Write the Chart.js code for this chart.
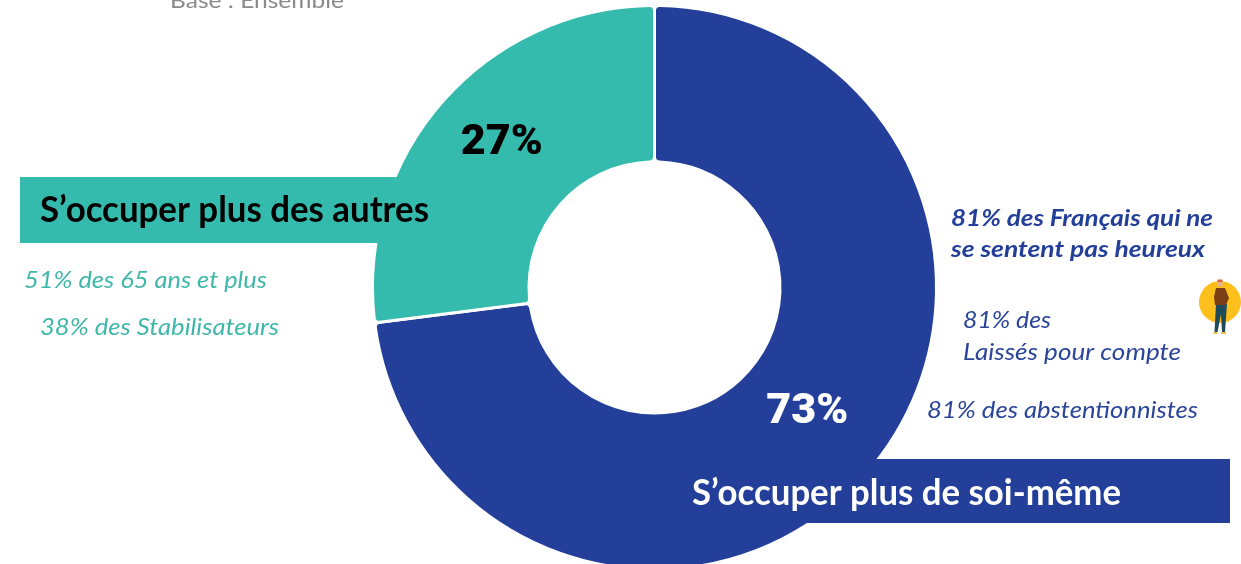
<!DOCTYPE html>
<html lang="fr">
<head>
<meta charset="utf-8">
<title>S'occuper plus des autres / de soi-même</title>
<script src="https://cdn.jsdelivr.net/npm/chart.js@4"></script>
<style>
    html, body { margin: 0; padding: 0; background: #fff; overflow: hidden; }
    #wrap { position: relative; width: 1241px; height: 564px; overflow: hidden; }
    canvas { position: absolute; left: 0; top: 0; }
</style>
</head>
<body>
<div id="wrap"><canvas id="donut" width="1241" height="575"></canvas></div>
<script>
const categories = ["S’occuper plus de soi-même", "S’occuper plus des autres"];
const values = [73, 27];
const baseNote = "Base : Ensemble";
const othersNotes = ["51% des 65 ans et plus", "38% des Stabilisateurs"];
const selfNotesStrong = ["81% des Français qui ne", "se sentent pas heureux"];
const selfNotes = ["81% des", "Laissés pour compte", "81% des abstentionnistes"];

const BLUE = "#233f99";
const TEAL = "#34bbad";

function put(ctx, text, x, y, width, font, color) {
    ctx.font = font;
    ctx.fillStyle = color;
    // stretch or squeeze the installed font to the width seen in the picture
    const natural = ctx.measureText(text).width;
    ctx.save();
    ctx.translate(x, y);
    ctx.scale(width / natural, 1);
    ctx.fillText(text, 0, 0);
    ctx.restore();
}

function drawFigure(ctx) {
    ctx.fillStyle = "#fdbf1c";
    ctx.beginPath(); ctx.arc(1220, 302, 21, 0, Math.PI * 2); ctx.fill();
    ctx.fillStyle = "#1f4a5a";
    ctx.beginPath();
    ctx.moveTo(1216, 304); ctx.lineTo(1227, 304); ctx.lineTo(1225, 332);
    ctx.lineTo(1222, 332); ctx.lineTo(1221, 314); ctx.lineTo(1217.5, 332); ctx.lineTo(1214.5, 332);
    ctx.closePath(); ctx.fill();
    ctx.fillStyle = "#7a3f14";
    ctx.beginPath();
    ctx.moveTo(1216, 288); ctx.lineTo(1225, 288); ctx.lineTo(1229, 298);
    ctx.lineTo(1226, 305); ctx.lineTo(1215, 305); ctx.lineTo(1214, 297);
    ctx.closePath(); ctx.fill();
    ctx.fillStyle = "#e9b48f";
    ctx.beginPath(); ctx.arc(1220, 284, 2.8, 0, Math.PI * 2); ctx.fill();
    ctx.fillStyle = "#d9603a";
    ctx.fillRect(1217.5, 279.5, 5, 2.5);
    ctx.fillStyle = "#f2c04a";
    ctx.fillRect(1213.5, 332, 4, 2);
    ctx.fillRect(1221, 332, 5, 2);
}

const calloutsPlugin = {
    id: "callouts",
    afterDatasetsDraw(chart) {
        const ctx = chart.ctx;
        const arcs = chart.getDatasetMeta(0).data;
        ctx.save();
        ctx.textAlign = "left";
        ctx.textBaseline = "alphabetic";

        put(ctx, baseNote, 170, 8, 174, "22px Lato", "#8a8a8a");

        ctx.fillStyle = TEAL;
        ctx.fillRect(20, 177, 420, 66);
        ctx.fillStyle = BLUE;
        ctx.fillRect(720, 459, 510, 64);

        // percent labels hang off the arcs themselves
        const percentColors = ["#ffffff", "#000000"];
        arcs.forEach((arc, i) => {
            const p = arc.tooltipPosition();
            const w = 82;
            put(ctx, values[i] + "%", p.x - w / 2, p.y + 1, w, "900 42px Roboto", percentColors[i]);
        });

        put(ctx, categories[1], 40, 222, 389, "bold 36px Lato", "#000000");
        put(ctx, categories[0], 692, 505, 429, "bold 36px Lato", "#ffffff");

        put(ctx, othersNotes[0], 24, 288, 243, "italic 24px Lato", "#3fb8a9");
        put(ctx, othersNotes[1], 40, 335, 239, "italic 24px Lato", "#3fb8a9");

        put(ctx, selfNotesStrong[0], 951, 226, 262, "italic bold 23px Lato", BLUE);
        put(ctx, selfNotesStrong[1], 951, 257, 254, "italic bold 23px Lato", BLUE);

        put(ctx, selfNotes[0], 963, 328, 88, "italic 24px Lato", "#2a4599");
        put(ctx, selfNotes[1], 963, 360, 218, "italic 24px Lato", "#2a4599");
        put(ctx, selfNotes[2], 927, 418, 271, "italic 24px Lato", "#2a4599");

        drawFigure(ctx);
        ctx.restore();
    }
};

new Chart(document.getElementById("donut"), {
    type: "doughnut",
    data: {
        labels: categories,
        datasets: [{
            data: values,
            backgroundColor: [BLUE, TEAL],
            borderColor: "#ffffff",
            borderWidth: 3,
            borderRadius: 5,
            hoverOffset: 0
        }]
    },
    options: {
        responsive: false,
        animation: false,
        cutout: "44.5%",
        layout: { padding: { left: 68, top: 4, bottom: 4 } },
        plugins: {
            legend: { display: false },
            tooltip: { enabled: false }
        }
    },
    plugins: [calloutsPlugin]
});
</script>
</body>
</html>
